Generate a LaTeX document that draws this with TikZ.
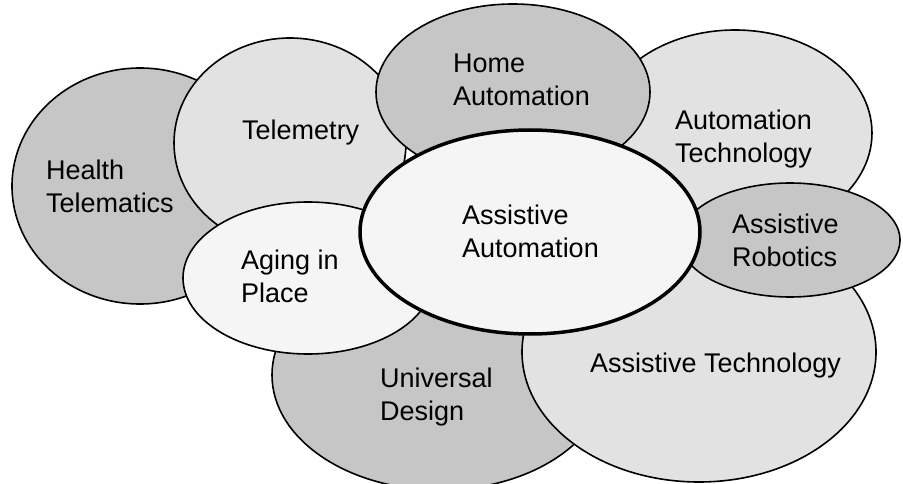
\documentclass[tikz,border=0pt]{standalone}
\usepackage{fontspec}
\setmainfont{Liberation Sans}
\usetikzlibrary{shapes.geometric}
\definecolor{deepgrey}{HTML}{C6C6C6}
\definecolor{midgrey}{HTML}{E2E2E2}
\definecolor{palegrey}{HTML}{F5F5F5}
\tikzset{bubble/.style={ellipse,draw=black,line width=1.6pt,inner sep=0pt}, tag/.style={anchor=base west,align=left,inner sep=0pt,font=\fontsize{27}{33}\selectfont}}

\begin{document}
\begin{tikzpicture}[x=1pt,y=-1pt]
\useasboundingbox (0,0) rectangle (903,484);
% back row first, so the later ones overlap it
\node[bubble,fill=deepgrey,minimum width=256pt,minimum height=236pt] (health) at (140,186) {};
\node[bubble,fill=midgrey,minimum width=232pt,minimum height=210pt] (telemetry) at (290,143) {};
\node[bubble,fill=midgrey,minimum width=274pt,minimum height=206pt] (autotech) at (735,133) {};
\node[bubble,fill=deepgrey,minimum width=274pt,minimum height=176pt] (home) at (513,92) {};
\node[bubble,fill=deepgrey,minimum width=336pt,minimum height=230pt] (universal) at (440,375) {};
\node[bubble,fill=midgrey,minimum width=354pt,minimum height=260pt] (assisttech) at (699,352) {};
\node[bubble,fill=deepgrey,minimum width=220pt,minimum height=114pt] (robotics) at (790,240) {};
\node[bubble,fill=palegrey,minimum width=250pt,minimum height=152pt] (aging) at (308,278) {};
\node[bubble,fill=palegrey,line width=3.5pt,minimum width=340pt,minimum height=204pt] (core) at (530,232) {};
% labels (base = last line)
\node[tag] (health-t) at (46,212) {Health\\Telematics};
\node[tag] (telemetry-t) at (242,140) {Telemetry};
\node[tag] (home-t) at (453,106) {Home\\Automation};
\node[tag] (autotech-t) at (675,163) {Automation\\Technology};
\node[tag] (core-t) at (462,258) {Assistive\\Automation};
\node[tag] (robotics-t) at (732,266) {Assistive\\Robotics};
\node[tag] (aging-t) at (241,302) {Aging in\\Place};
\node[tag] (universal-t) at (380,420) {Universal\\Design};
\node[tag] (assisttech-t) at (590,372) {Assistive Technology};
\end{tikzpicture}
\end{document}
